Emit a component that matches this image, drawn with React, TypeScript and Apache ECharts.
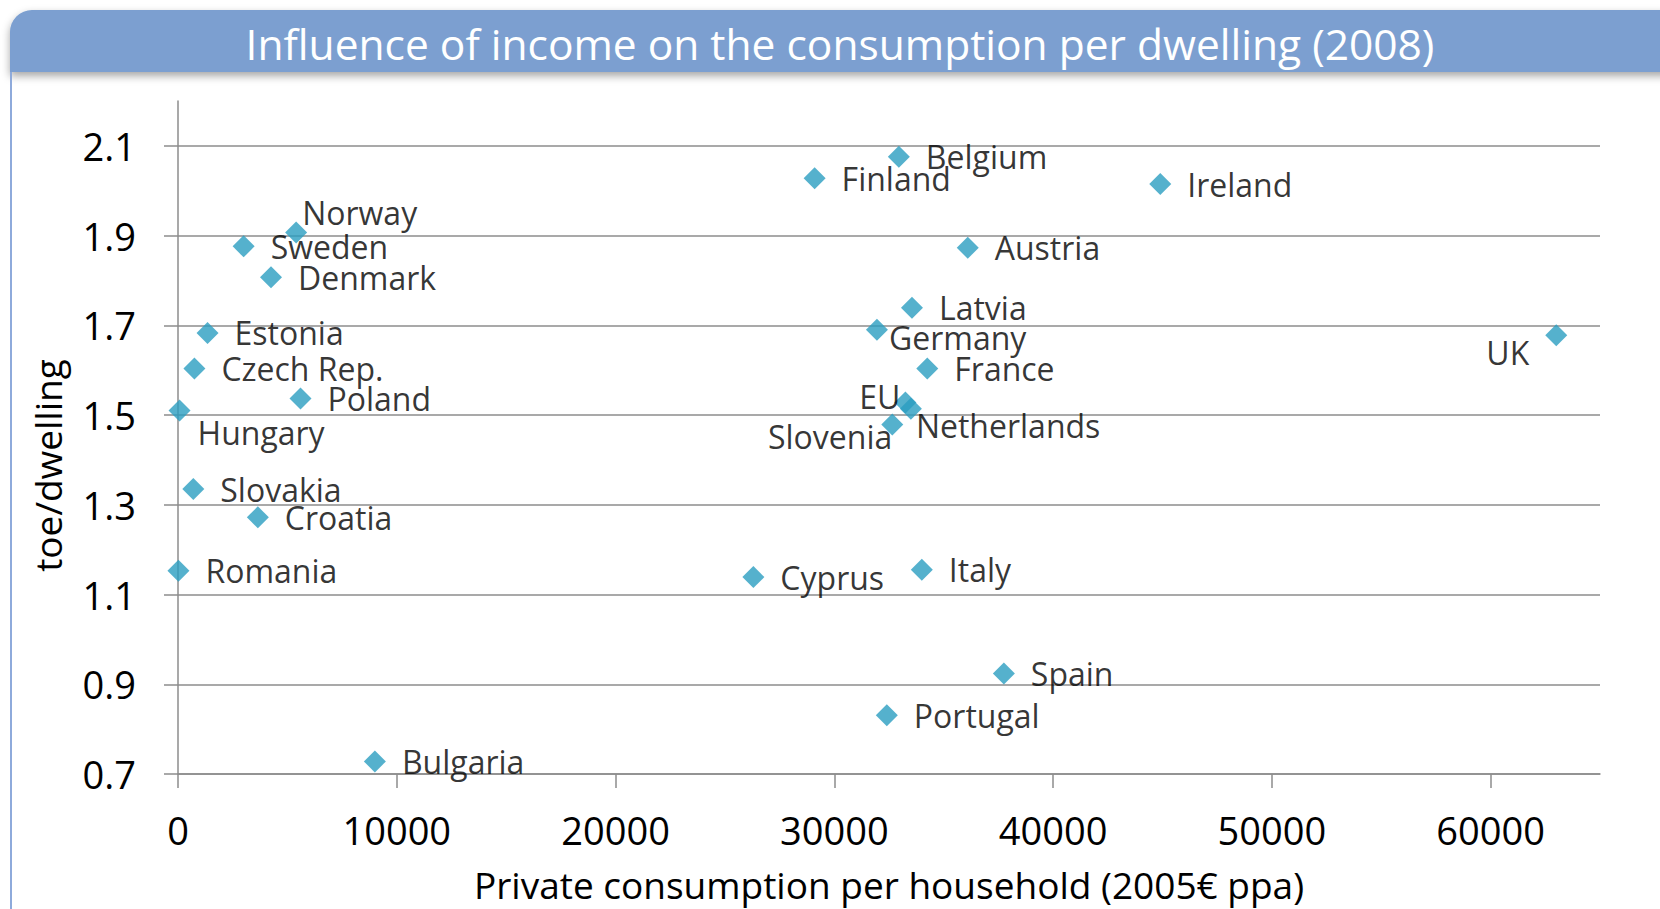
import React, { useEffect, useRef } from 'react';
import * as echarts from 'echarts';

const countries = [
  'Norway', 'Sweden', 'Denmark', 'Estonia', 'Czech Rep.', 'Poland', 'Hungary', 'Slovakia', 'Croatia',
  'Romania', 'Bulgaria', 'Belgium', 'Finland', 'Ireland', 'Austria', 'Latvia', 'Germany', 'France',
  'EU', 'Netherlands', 'Slovenia', 'Cyprus', 'Italy', 'Spain', 'Portugal', 'UK',
];
const consumption = [
  5400, 3000, 4250, 1350, 750, 5600, 70, 700, 3650,
  20, 9000, 32950, 29100, 44900, 36100, 33550, 31950, 34250,
  33250, 33500, 32650, 26300, 34000, 37750, 32400, 63000,
];
const toePerDwelling = [
  1.907, 1.876, 1.807, 1.683, 1.604, 1.537, 1.51, 1.335, 1.272,
  1.153, 0.728, 2.076, 2.028, 2.015, 1.873, 1.739, 1.69, 1.604,
  1.528, 1.514, 1.479, 1.139, 1.155, 0.924, 0.831, 1.678,
];
const xTicks = [0, 10000, 20000, 30000, 40000, 50000, 60000];
const yTicks = [0.7, 0.9, 1.1, 1.3, 1.5, 1.7, 1.9, 2.1];

const TITLE = 'Influence of income on the consumption per dwelling (2008)';
const X_NAME = 'Private consumption per household (2005€ ppa)';
const Y_NAME = 'toe/dwelling';

const labelTweaks: Record<string, any> = {
  Norway: { offset: [-21, -20] },
  Hungary: { offset: [-9, 22] },
  Germany: { offset: [-15, 8] },
  Netherlands: { offset: [-22, 17] },
  EU: { position: 'left', offset: [22, -6] },
  Slovenia: { position: 'left', offset: [27, 12] },
  UK: { position: 'left', offset: [0, 17] },
};

const FONT = '"Open Sans", "Noto Sans", sans-serif';
const GRID_COLOR = '#8c8c8c';

export default function App() {
  const ref = useRef<HTMLDivElement>(null);
  useEffect(() => {
    if (!ref.current) return;
    const chart = echarts.init(ref.current, undefined, { renderer: 'svg' });
    const data = countries.map((c, i) => {
      const d: any = { name: c, value: [consumption[i], toePerDwelling[i]] };
      if (labelTweaks[c]) d.label = labelTweaks[c];
      return d;
    });
    chart.setOption({
      animation: false,
      backgroundColor: '#ffffff',
      title: {
        text: TITLE,
        left: 840,
        top: 22,
        textAlign: 'center',
        padding: 0,
        z: 10,
        textStyle: { color: '#ffffff', fontSize: 42.5, fontWeight: 'normal', fontFamily: FONT },
      },
      graphic: [
        {
          type: 'rect',
          z: 1,
          shape: { x: 10, y: 10, width: 1700, height: 62, r: [22, 22, 0, 0] },
          style: {
            fill: '#7b9fd0',
            shadowBlur: 8,
            shadowOffsetY: 4,
            shadowColor: 'rgba(0,0,0,0.35)',
          },
        },
        {
          type: 'line',
          z: 1,
          shape: { x1: 11, y1: 72, x2: 11, y2: 909 },
          style: { stroke: '#8eaadb', lineWidth: 2 },
        },
      ],
      grid: { left: 178, right: 60, top: 101, bottom: 133, containLabel: false },
      xAxis: {
        type: 'value',
        min: 0,
        max: 65000,
        interval: 10000,
        name: X_NAME,
        nameLocation: 'middle',
        nameGap: 90,
        nameTextStyle: { fontSize: 37, lineHeight: 40, color: '#000', fontFamily: FONT },
        axisLine: { show: true, lineStyle: { color: GRID_COLOR, width: 1.5 } },
        axisTick: { show: true, length: 14, customValues: xTicks, lineStyle: { color: GRID_COLOR, width: 1.5 } },
        axisLabel: {
          customValues: xTicks,
          margin: 37,
          fontSize: 38,
          color: '#000',
          fontFamily: FONT,
          formatter: (v: number) => String(v),
        },
        splitLine: { show: false },
      },
      yAxis: {
        type: 'value',
        min: 0.7,
        max: 2.2,
        interval: 0.2,
        name: Y_NAME,
        nameLocation: 'middle',
        nameGap: 112,
        nameTextStyle: { fontSize: 37, color: '#000', fontFamily: FONT, padding: [0, 56, 0, 0] },
        axisLine: { show: true, lineStyle: { color: GRID_COLOR, width: 1.5 } },
        axisTick: { show: true, length: 14, customValues: yTicks, lineStyle: { color: GRID_COLOR, width: 1.5 } },
        axisLabel: {
          customValues: yTicks,
          margin: 42,
          fontSize: 38,
          color: '#000',
          fontFamily: FONT,
          formatter: (v: number) => v.toFixed(1),
        },
        splitLine: { show: true, lineStyle: { color: GRID_COLOR, width: 1.5 } },
      },
      series: [
        {
          type: 'scatter',
          symbol: 'diamond',
          symbolSize: 22,
          itemStyle: { color: '#2a9ec0' },
          label: {
            show: true,
            position: 'right',
            distance: 16,
            formatter: '{b}',
            fontSize: 32,
            color: '#000',
            fontFamily: FONT,
          },
          data,
        },
      ],
    });
    return () => chart.dispose();
  }, []);
  return (
    <div
      ref={ref}
      style={{ position: 'absolute', left: 0, top: 0, width: 1660, height: 909 }}
    />
  );
}
